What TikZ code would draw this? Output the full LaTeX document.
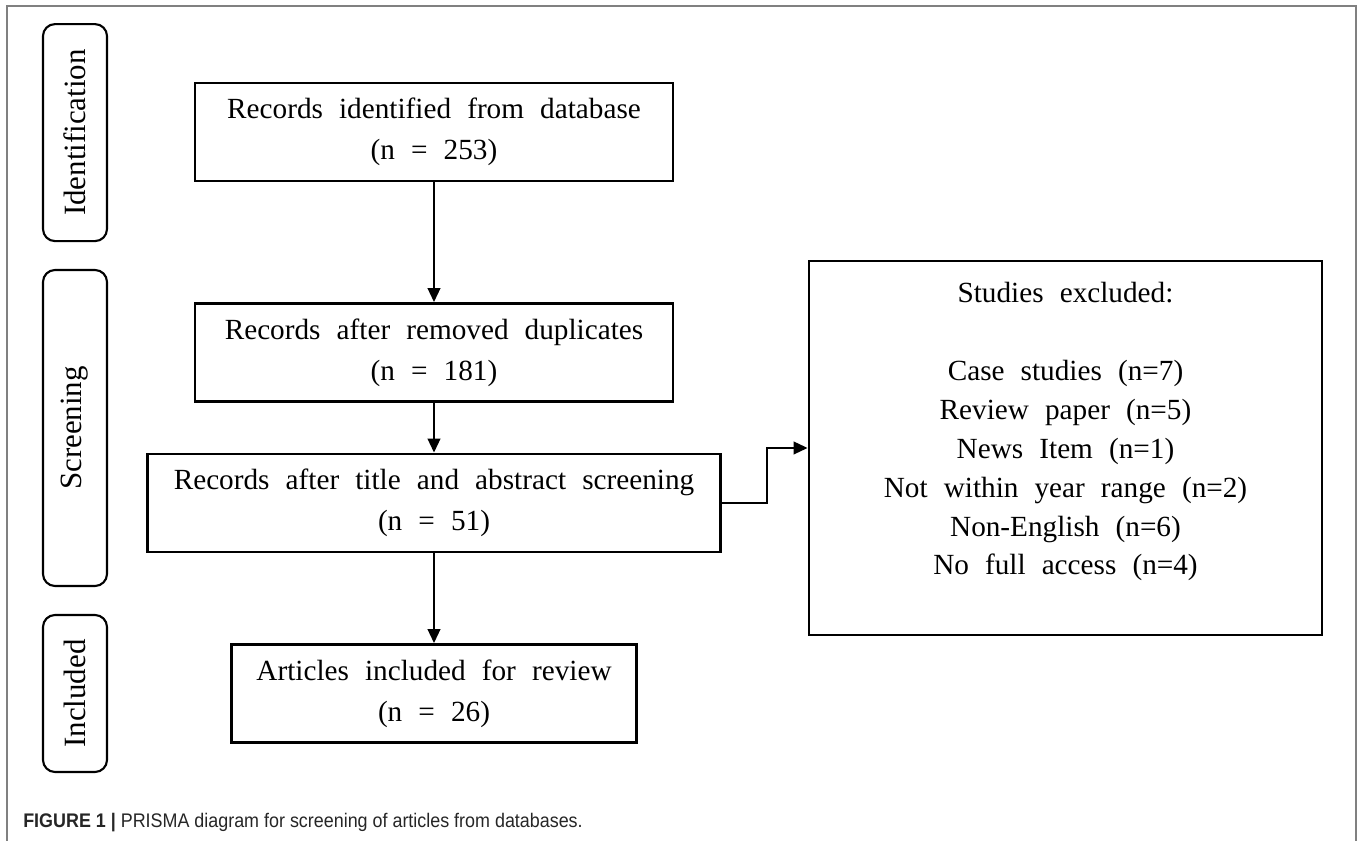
\documentclass[tikz,border=0pt]{standalone}
\usepackage{graphicx}
\usepackage{fontspec}
\setmainfont{Liberation Serif}[WordSpace=2.2]
\newfontfamily\capfont{Liberation Sans}
\usetikzlibrary{arrows.meta}
\usetikzlibrary{positioning}

\begin{document}
\begin{tikzpicture}
	\tikzset{stage/.style = {shape=rectangle,draw,rounded corners=0.3cm,
			line width=1.5pt, rotate=90, minimum height=1.6cm,
			inner sep = 0pt, font=\fontsize{22}{26}\selectfont}}
	\tikzset{box/.style = {shape=rectangle,draw,line width=2pt,
			minimum height=2.45cm, align=center, inner sep = 0pt,
			font=\fontsize{20.8}{29}\selectfont}}
	\tikzset{edge/.style = {-{Triangle[length=10pt,width=9pt]}, line width=1.6pt}}

	\useasboundingbox (0,0) rectangle (34,21.025);
	\draw[gray, line width=1pt] (0.175,0) -- (0.175,20.875) -- (33.9,20.875) -- (33.9,0);

	% stages
	\node[stage, minimum width=5.425cm] (ident) at (1.875,17.71) {Identification};
	\node[stage, minimum width=7.9cm] (screen) at (1.875,10.325) {Screening};
	\node[stage, minimum width=3.925cm] (incl) at (1.875,3.6875) {Included};

	% boxes
	\node[box, minimum width=11.95cm] (rec) at (10.85,17.725) {Records identified from database\\(n = 253)};
	\node[box, minimum width=11.95cm] (dup) at (10.85,12.2125) {Records after removed duplicates\\(n = 181)};
	\node[box, minimum width=14.325cm] (scr) at (10.85,8.45) {Records after title and abstract screening\\(n = 51)};
	\node[box, minimum width=10.125cm] (art) at (10.85,3.6875) {Articles included for review\\(n = 26)};
	\node[box, minimum width=12.825cm, minimum height=9.35cm,
		font=\fontsize{20.8}{27.7}\selectfont] (excl) at (26.6375,9.825)
		{Studies excluded:\\[\baselineskip]Case studies (n=7)\\Review paper (n=5)\\News Item (n=1)\\Not within year range (n=2)\\Non-English (n=6)\\No full access (n=4)\\\mbox{}};

	\node[anchor=base west, inner sep=0pt, text=black!85] (cap) at (0.575,0.325)
		{\scalebox{0.91}[1]{\capfont\fontsize{14}{16}\selectfont\textbf{FIGURE 1 |} PRISMA diagram for screening of articles from databases.}};

	%edges
	\draw[edge] (rec) to (dup);
	\draw[edge] (dup) to (scr);
	\draw[edge] (scr) to (art);
	\draw[edge] (scr.east) -- ++(1.125,0) |- (excl.west);
\end{tikzpicture}
\end{document}
